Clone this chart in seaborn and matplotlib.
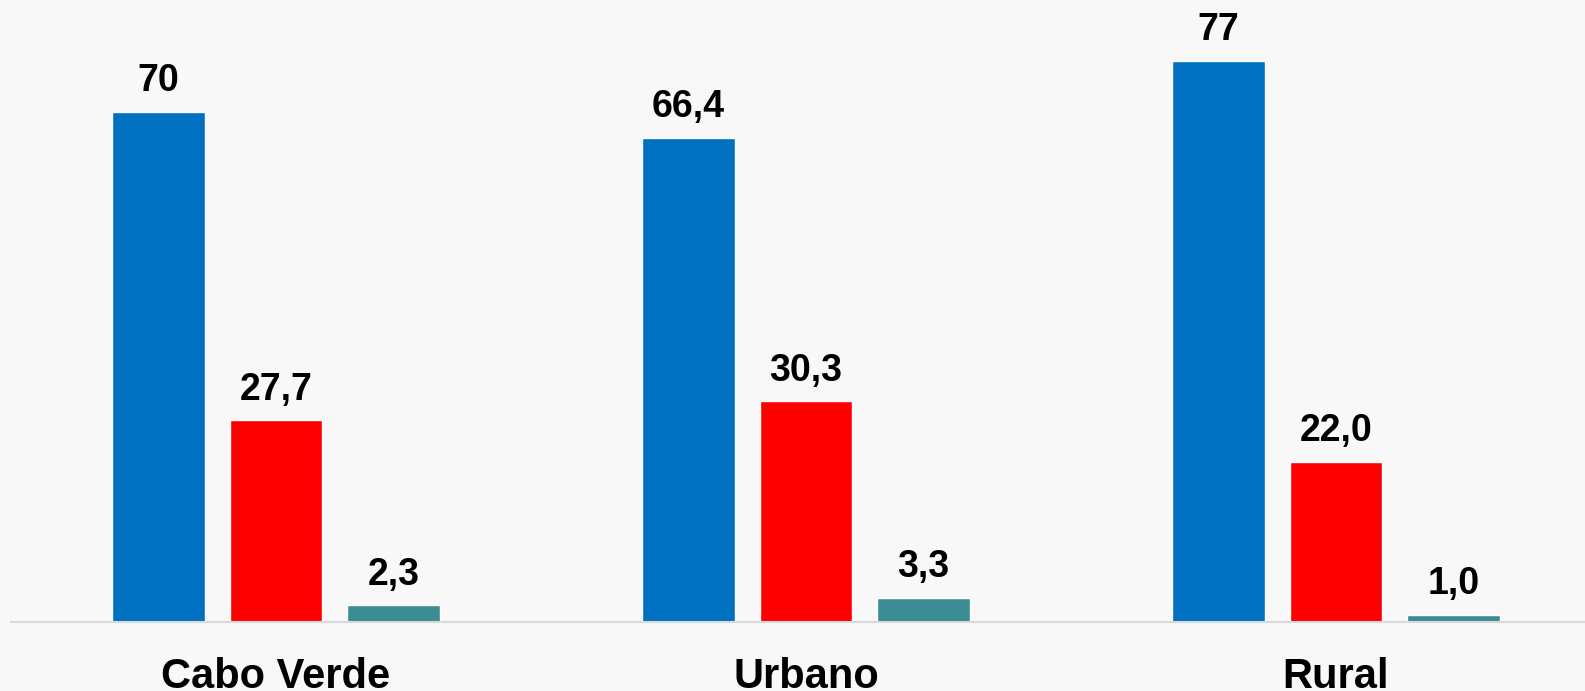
import pandas as pd
import matplotlib
matplotlib.use("Agg")
import matplotlib.pyplot as plt
import seaborn as sns

# Data
categories = ["Cabo Verde", "Urbano", "Rural"]
series_names = ["Série 1", "Série 2", "Série 3"]
serie_1 = [70.0, 66.4, 77.0]
serie_2 = [27.7, 30.3, 22.0]
serie_3 = [2.3, 3.3, 1.0]
labels_1 = ["70", "66,4", "77"]
labels_2 = ["27,7", "30,3", "22,0"]
labels_3 = ["2,3", "3,3", "1,0"]

colors = ["#0070C0", "#FF0000", "#3C8C93"]
bg = "#F8F8F8"

df = pd.DataFrame({
    "categoria": categories * 3,
    "serie": [series_names[0]] * 3 + [series_names[1]] * 3 + [series_names[2]] * 3,
    "valor": serie_1 + serie_2 + serie_3,
})

sns.set_style("white")
plt.rcParams["font.family"] = ["Liberation Sans", "DejaVu Sans"]

fig = plt.figure(figsize=(15.85, 6.91), dpi=100, facecolor=bg)
ax = fig.add_axes([11 / 1585, 69 / 691, 1 - 11 / 1585, 622 / 691])
ax.set_facecolor(bg)

sns.barplot(data=df, x="categoria", y="valor", hue="serie",
            palette=colors, width=0.665, gap=0.213, legend=False,
            saturation=1, ax=ax)

# value labels on top of each bar
for container, labs in zip(ax.containers, [labels_1, labels_2, labels_3]):
    ax.bar_label(container, labels=labs, padding=9, fontsize=27,
                 fontweight="bold", color="black")

ax.set_xlim(-0.5, 2.47)
ax.set_ylim(0, 85.3)
ax.set_xlabel("")
ax.set_ylabel("")
ax.set_yticks([])
ax.tick_params(axis="x", length=0, pad=25, labelsize=30, labelcolor="black")
for lab in ax.get_xticklabels():
    lab.set_fontweight("bold")

for side in ["top", "left", "right"]:
    ax.spines[side].set_visible(False)
ax.spines["bottom"].set_color("#D9D9D9")
ax.spines["bottom"].set_linewidth(1.5)

fig.savefig("out.png", dpi=100, facecolor=bg)
